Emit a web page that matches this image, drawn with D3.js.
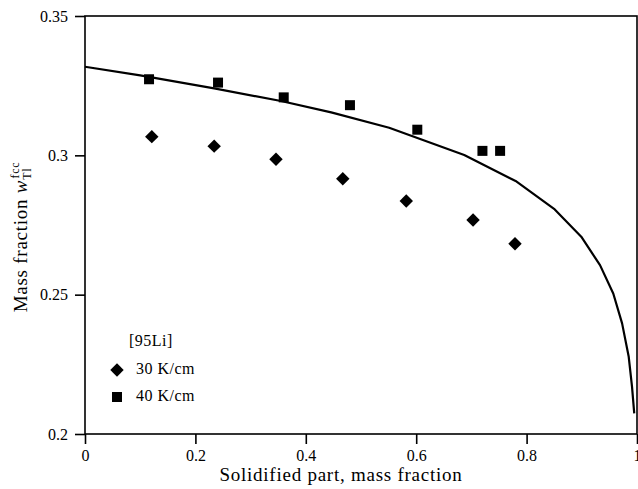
<!DOCTYPE html>
<html>
<head>
<meta charset="utf-8">
<script src="https://cdn.jsdelivr.net/npm/d3@7"></script>
<style>
  body { margin: 0; background: #fff; }
</style>
</head>
<body>
<div id="chart"></div>
<script>
var svgWidth = 638;
var svgHeight = 489;

var margin = { top: 16, right: 1, bottom: 55, left: 85 };
var width = svgWidth - margin.left - margin.right;
var height = svgHeight - margin.top - margin.bottom;
var fontName = '"Liberation Serif"';

// data
var xTicks = [0, 0.2, 0.4, 0.6, 0.8, 1];
var xTickLabels = ["0", "0.2", "0.4", "0.6", "0.8", "1"];
var yTicks = [0.2, 0.25, 0.3, 0.35];
var yTickLabels = ["0.2", "0.25", "0.3", "0.35"];

var curveX = [0, 0.1, 0.234, 0.355, 0.446, 0.551, 0.687, 0.78, 0.851, 0.899, 0.933, 0.957, 0.973, 0.985, 0.991, 0.995];
var curveY = [0.3318, 0.3287, 0.3240, 0.3195, 0.3154, 0.3099, 0.3001, 0.2908, 0.2806, 0.2708, 0.2606, 0.2504, 0.2397, 0.2277, 0.2169, 0.2074];

var g30X = [0.121, 0.234, 0.346, 0.467, 0.582, 0.703, 0.779];
var g30Y = [0.3067, 0.3033, 0.2986, 0.2916, 0.2836, 0.2768, 0.2683];

var g40X = [0.116, 0.241, 0.360, 0.480, 0.602, 0.720, 0.752];
var g40Y = [0.3273, 0.3261, 0.3208, 0.3180, 0.3092, 0.3016, 0.3016];

var svg = d3.select("#chart")
  .append("svg")
  .attr("width", svgWidth)
  .attr("height", svgHeight)
  .attr("font-family", "Liberation Serif");

var chartGroup = svg.append("g")
  .attr("transform", `translate(${margin.left}, ${margin.top})`);

var x = d3.scaleLinear().domain([0, 1]).range([0, width]);
var y = d3.scaleLinear().domain([0.2, 0.35]).range([height, 0]);

// frame
chartGroup.append("rect")
  .attr("width", width)
  .attr("height", height)
  .attr("fill", "none")
  .attr("stroke", "#000")
  .attr("stroke-width", 1.6);

var xAxis = d3.axisBottom(x)
  .tickValues(xTicks)
  .tickFormat((d, i) => xTickLabels[i])
  .tickSizeOuter(0)
  .tickSize(10)
  .tickPadding(6);
var yAxis = d3.axisLeft(y)
  .tickValues(yTicks)
  .tickFormat((d, i) => yTickLabels[i])
  .tickSizeOuter(0)
  .tickSize(10)
  .tickPadding(7);

var gx = chartGroup.append("g")
  .attr("transform", `translate(0, ${height})`)
  .call(xAxis);
var gy = chartGroup.append("g")
  .call(yAxis);

[gx, gy].forEach(function(ax) {
  ax.attr("font-family", "Liberation Serif");
  ax.select(".domain").remove();
  ax.selectAll(".tick line").attr("stroke-width", 1.6);
  ax.selectAll(".tick text")
    .style("font-size", "16px");
});

// model curve
var line = d3.line()
  .x((d, i) => x(curveX[i]))
  .y((d, i) => y(curveY[i]));

chartGroup.append("path")
  .datum(curveX)
  .attr("d", line)
  .attr("fill", "none")
  .attr("stroke", "#000")
  .attr("stroke-width", 2.2)
  .attr("stroke-linejoin", "round");

// 30 K/cm diamonds
var diamond = d3.symbol().type(d3.symbolSquare).size(90);
chartGroup.selectAll(".d30")
  .data(g30X)
  .enter()
  .append("path")
  .attr("class", "d30")
  .attr("d", diamond)
  .attr("transform", (d, i) => `translate(${x(d)}, ${y(g30Y[i])}) rotate(45)`)
  .attr("fill", "#000");

// 40 K/cm squares
var square = d3.symbol().type(d3.symbolSquare).size(100);
chartGroup.selectAll(".s40")
  .data(g40X)
  .enter()
  .append("path")
  .attr("class", "s40")
  .attr("d", square)
  .attr("transform", (d, i) => `translate(${x(d)}, ${y(g40Y[i])})`)
  .attr("fill", "#000");

// legend
var legend = svg.append("g")
  .style("font-size", "16px")
  .style("letter-spacing", "0.5px");
legend.append("text")
  .attr("x", 129)
  .attr("y", 346)
  .text("[95Li]");

legend.append("path")
  .attr("d", diamond)
  .attr("transform", "translate(117, 370) rotate(45)")
  .attr("fill", "#000");
legend.append("text")
  .attr("x", 136)
  .attr("y", 374)
  .text("30 K/cm");

legend.append("path")
  .attr("d", square)
  .attr("transform", "translate(117, 397)")
  .attr("fill", "#000");
legend.append("text")
  .attr("x", 136)
  .attr("y", 401)
  .text("40 K/cm");

// axis titles
svg.append("text")
  .attr("x", 341)
  .attr("y", 481)
  .attr("text-anchor", "middle")
  .style("font-size", "19px")
  .style("letter-spacing", "0.75px")
  .text("Solidified part, mass fraction");

var yTitle = svg.append("text")
  .attr("transform", "translate(27, 237) rotate(-90)")
  .attr("text-anchor", "middle")
  .style("font-size", "19px")
  .style("letter-spacing", "0.75px");
yTitle.append("tspan").text("Mass fraction ");
yTitle.append("tspan").style("font-style", "italic").text("w");
yTitle.append("tspan").attr("dy", 4).style("font-size", "12px").text("Tl");
yTitle.append("tspan").attr("dx", -11).attr("dy", -12).style("font-size", "12px").text("fcc");

svg.selectAll("text").style("font-family", fontName).attr("fill", "#000");
</script>
</body>
</html>
